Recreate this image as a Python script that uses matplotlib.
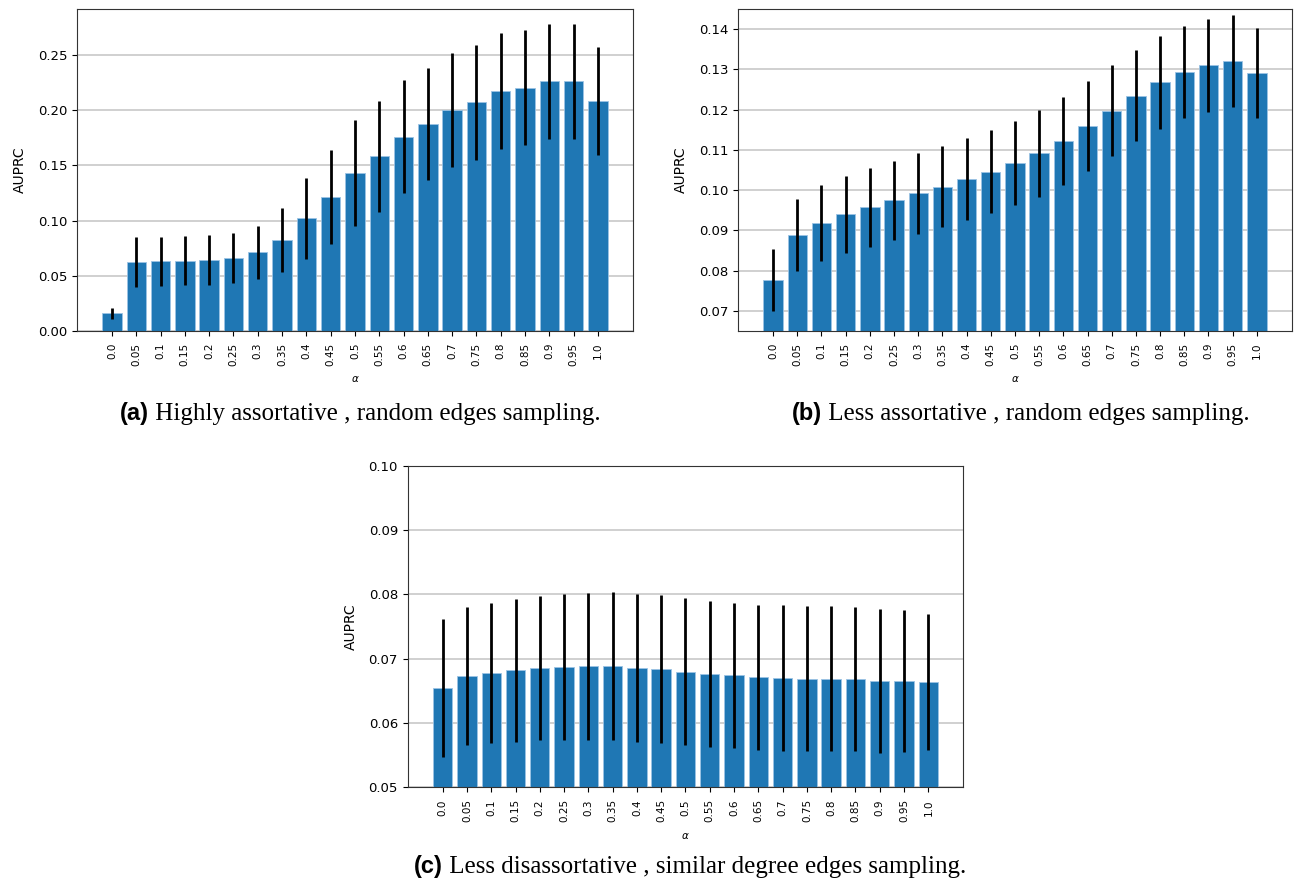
import matplotlib
matplotlib.use("Agg")
import matplotlib.pyplot as plt
import numpy as np

alpha_labels = ["0.0", "0.05", "0.1", "0.15", "0.2", "0.25", "0.3", "0.35", "0.4", "0.45",
                "0.5", "0.55", "0.6", "0.65", "0.7", "0.75", "0.8", "0.85", "0.9", "0.95", "1.0"]

# (a) Highly assortative, random edges sampling
a_mean = [0.016, 0.0628, 0.0632, 0.0638, 0.0644, 0.0664, 0.0713, 0.0823, 0.1023, 0.1212,
          0.1431, 0.1581, 0.1761, 0.1877, 0.2001, 0.2071, 0.2175, 0.2204, 0.2263, 0.2263, 0.2085]
a_err = [0.005, 0.0225, 0.0224, 0.0224, 0.0224, 0.0226, 0.0239, 0.0287, 0.0367, 0.0426,
         0.0482, 0.0499, 0.0513, 0.0508, 0.0517, 0.052, 0.0525, 0.052, 0.0519, 0.0519, 0.0492]

# (b) Less assortative, random edges sampling
b_mean = [0.0777, 0.0889, 0.0918, 0.094, 0.0957, 0.0975, 0.0992, 0.1009, 0.1027, 0.1046,
          0.1068, 0.1092, 0.1122, 0.116, 0.1197, 0.1235, 0.1268, 0.1293, 0.131, 0.1321, 0.129]
b_err = [0.0077, 0.009, 0.0094, 0.0096, 0.0097, 0.0098, 0.01, 0.01, 0.0102, 0.0103,
         0.0105, 0.0108, 0.0109, 0.0112, 0.0113, 0.0114, 0.0115, 0.0115, 0.0115, 0.0115, 0.0112]

# (c) Less disassortative, similar degree edges sampling
c_mean = [0.0655, 0.0673, 0.0678, 0.0682, 0.0685, 0.0687, 0.0688, 0.0688, 0.0686, 0.0684,
          0.068, 0.0676, 0.0674, 0.0671, 0.067, 0.0669, 0.0669, 0.0668, 0.0666, 0.0665, 0.0664]
c_err = [0.0107, 0.0107, 0.0109, 0.0111, 0.0112, 0.0114, 0.0114, 0.0115, 0.0115, 0.0115,
         0.0114, 0.0113, 0.0112, 0.0113, 0.0113, 0.0113, 0.0113, 0.0112, 0.0112, 0.011, 0.0106]

captions = [
    ("(a)", "Highly assortative , random edges sampling."),
    ("(b)", "Less assortative , random edges sampling."),
    ("(c)", "Less disassortative , similar degree edges sampling."),
]

fig = plt.figure(figsize=(13.0, 8.83), dpi=100)

panels = [
    (a_mean, a_err, [0.0592, 0.6251, 0.4277, 0.3647], None, [0.0, 0.05, 0.10, 0.15, 0.20, 0.25]),
    (b_mean, b_err, [0.5679, 0.6251, 0.4257, 0.3647], (0.065, 0.145), [0.07, 0.08, 0.09, 0.10, 0.11, 0.12, 0.13, 0.14]),
    (c_mean, c_err, [0.3136, 0.1082, 0.4274, 0.3644], (0.05, 0.10), [0.05, 0.06, 0.07, 0.08, 0.09, 0.10]),
]

x = np.arange(len(alpha_labels))
axes = []
for mean, err, rect, ylim, yticks in panels:
    ax = fig.add_axes(rect)
    ax.set_axisbelow(True)
    ax.yaxis.grid(True, color="#c8c8c8", linewidth=1.2)
    ax.bar(x, mean, width=0.8, color="#1f77b4", edgecolor="#9cc3e4", linewidth=0.6)
    ax.errorbar(x, mean, yerr=err, fmt="none", ecolor="black", elinewidth=2.0, capsize=0)
    ax.set_xticks(x)
    ax.set_xticklabels(alpha_labels, rotation=90, fontsize=7.5)
    ax.tick_params(axis="x", pad=5)
    ax.set_yticks(yticks)
    ax.set_yticklabels(["%.2f" % t for t in yticks], fontsize=9.5)
    if ylim is not None:
        ax.set_ylim(*ylim)
    else:
        ax.set_ylim(0, 0.2917)
    ax.set_ylabel("AUPRC", fontsize=10, labelpad=8)
    ax.set_xlabel(r"$\alpha$", fontsize=7.5, labelpad=6)
    for s in ax.spines.values():
        s.set_color("#333333")
    axes.append(ax)

# captions: bold sans label + serif text
cap_pos = [(360 / 1300, 1 - 414 / 883), (1021 / 1300, 1 - 414 / 883), (690 / 1300, 1 - 867 / 883)]
fig.canvas.draw()
renderer = fig.canvas.get_renderer()
for (lab, txt), (cx, cy) in zip(captions, cap_pos):
    t1 = fig.text(0, cy, lab, fontsize=17, fontweight="bold", family="Liberation Sans",
                  va="center", ha="left")
    t2 = fig.text(0, cy, " " + txt, fontsize=18, family="Liberation Serif", va="center", ha="left")
    w1 = t1.get_window_extent(renderer).width
    w2 = t2.get_window_extent(renderer).width
    start = cx * 1300 - (w1 + w2) / 2
    t1.set_x(start / 1300)
    t2.set_x((start + w1) / 1300)

fig.savefig("out.png", dpi=100)
